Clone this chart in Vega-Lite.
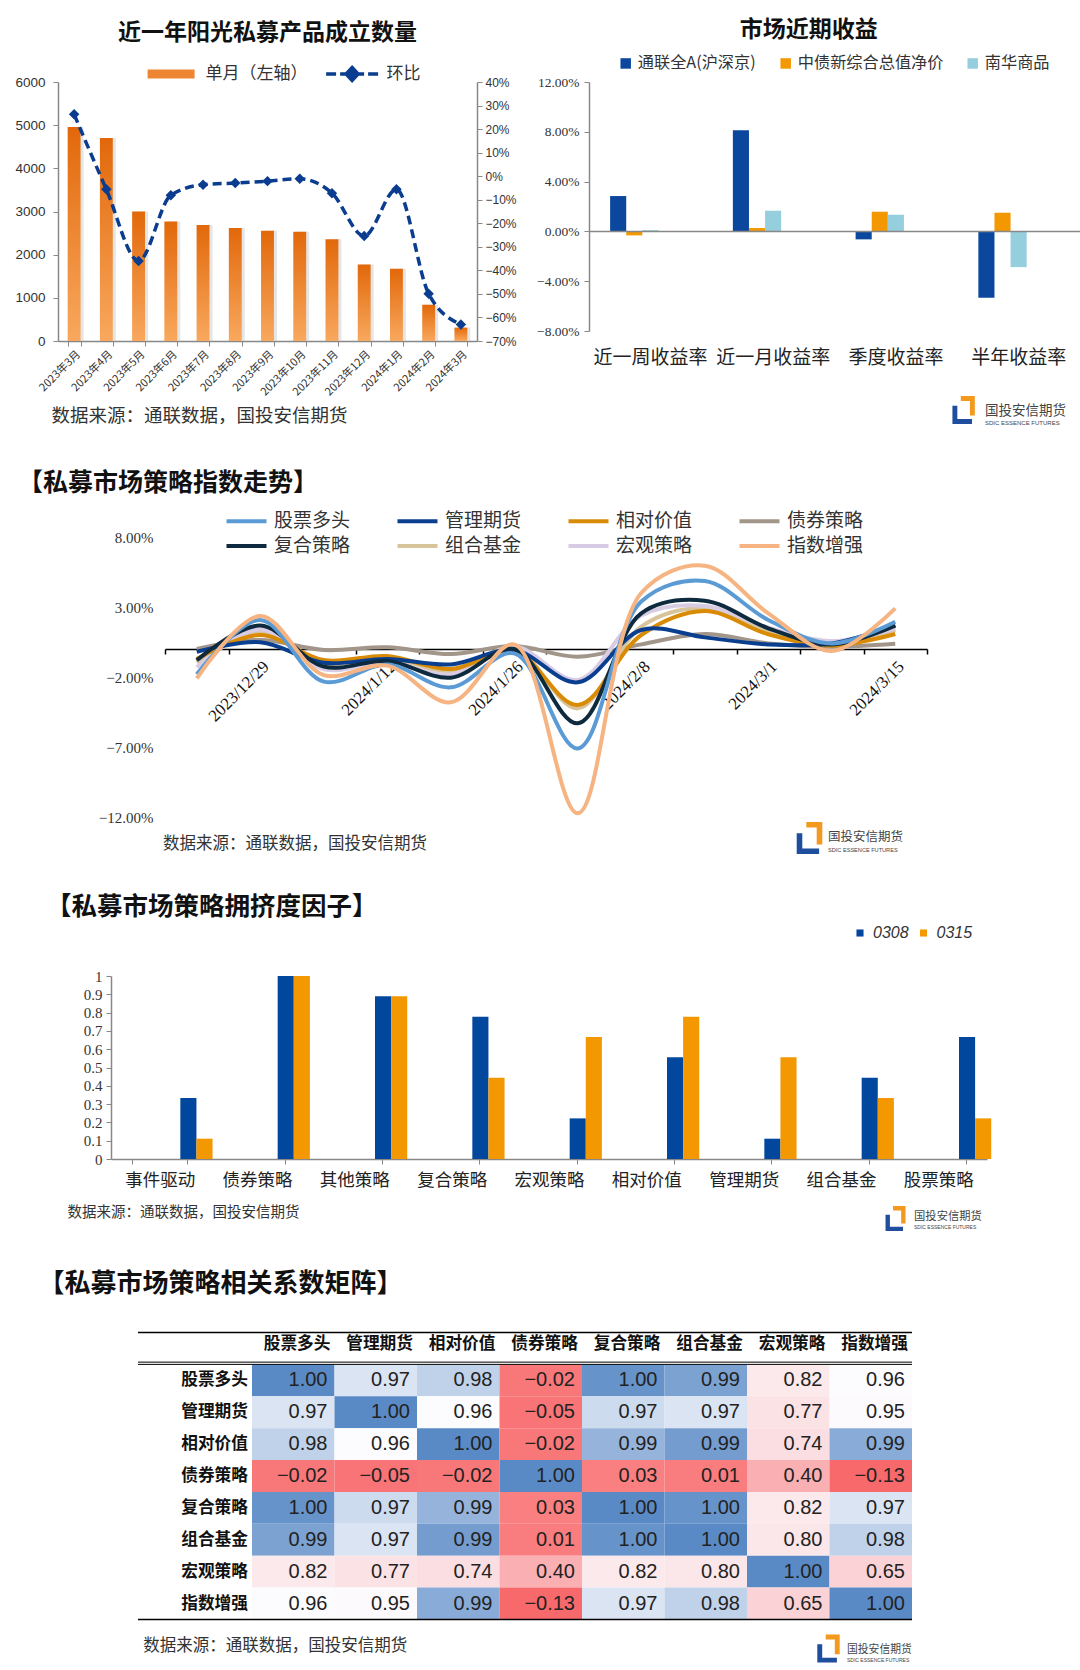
{
 "$schema": "https://vega.github.io/schema/vega-lite/v6.json",
 "background": "white",
 "padding": {"left": 0, "top": 18, "right": 0, "bottom": 0},
 "config": {
  "view": {"stroke": null},
  "font": "Noto Sans CJK SC",
  "axis": {"labelColor": "#333333", "titleColor": "#333333", "grid": false, "labelFont": "Noto Sans CJK SC", "titleFont": "Noto Sans CJK SC"},
  "legend": {"labelColor": "#333333", "padding": 0, "labelFont": "Noto Sans CJK SC"},
  "title": {"color": "#111111", "fontWeight": "bold", "font": "Noto Sans CJK SC"}
 },
 "datasets": {
  "p5": [
   {"r":"股票多头","股票多头":1.000,"管理期货":0.970,"相对价值":0.976,"债券策略":-0.020,"复合策略":0.997,"组合基金":0.992,"宏观策略":0.820,"指数增强":0.960},
   {"r":"管理期货","股票多头":0.970,"管理期货":1.000,"相对价值":0.962,"债券策略":-0.050,"复合策略":0.973,"组合基金":0.970,"宏观策略":0.770,"指数增强":0.950},
   {"r":"相对价值","股票多头":0.976,"管理期货":0.962,"相对价值":1.000,"债券策略":-0.020,"复合策略":0.986,"组合基金":0.994,"宏观策略":0.740,"指数增强":0.989},
   {"r":"债券策略","股票多头":-0.020,"管理期货":-0.050,"相对价值":-0.020,"债券策略":1.000,"复合策略":0.030,"组合基金":0.010,"宏观策略":0.400,"指数增强":-0.130},
   {"r":"复合策略","股票多头":0.997,"管理期货":0.973,"相对价值":0.986,"债券策略":0.030,"复合策略":1.000,"组合基金":0.997,"宏观策略":0.820,"指数增强":0.970},
   {"r":"组合基金","股票多头":0.992,"管理期货":0.970,"相对价值":0.994,"债券策略":0.010,"复合策略":0.997,"组合基金":1.000,"宏观策略":0.800,"指数增强":0.976},
   {"r":"宏观策略","股票多头":0.820,"管理期货":0.770,"相对价值":0.740,"债券策略":0.400,"复合策略":0.820,"组合基金":0.800,"宏观策略":1.000,"指数增强":0.650},
   {"r":"指数增强","股票多头":0.960,"管理期货":0.950,"相对价值":0.989,"债券策略":-0.130,"复合策略":0.970,"组合基金":0.976,"宏观策略":0.650,"指数增强":1.000}
  ]
 },
 "spacing": 40,
 "resolve": {"scale": {"color": "independent", "fill": "independent", "stroke": "independent"}},
 "vconcat": [
  {"spacing": 44, "resolve": {"scale": {"color": "independent", "fill": "independent", "stroke": "independent"}}, "vconcat": [
   {"spacing": 0, "resolve": {"scale": {"color": "independent", "fill": "independent", "stroke": "independent"}}, "hconcat": [
    {"width": 13.4, "height": 1, "data": {"values": []}, "mark": "point"},
    {
     "width": 419, "height": 259,
     "title": {"text": "近一年阳光私募产品成立数量", "fontSize": 23, "anchor": "middle", "frame": "group", "offset": 20.5},
     "data": {"values": [
      {"m":"2023年3月","n":4960,"r":0.263},
      {"m":"2023年4月","n":4700,"r":-0.056},
      {"m":"2023年5月","n":3000,"r":-0.36},
      {"m":"2023年6月","n":2770,"r":-0.081},
      {"m":"2023年7月","n":2690,"r":-0.036},
      {"m":"2023年8月","n":2620,"r":-0.029},
      {"m":"2023年9月","n":2555,"r":-0.021},
      {"m":"2023年10月","n":2530,"r":-0.011},
      {"m":"2023年11月","n":2360,"r":-0.072},
      {"m":"2023年12月","n":1775,"r":-0.254},
      {"m":"2024年1月","n":1675,"r":-0.056},
      {"m":"2024年2月","n":840,"r":-0.499},
      {"m":"2024年3月","n":310,"r":-0.63}
     ]},
     "layer": [
      {"layer": [
       {"mark": {"type": "bar", "color": "#d0d0d0", "opacity": 0.55, "xOffset": 3},
        "encoding": {
         "x": {"field": "m", "type": "ordinal", "sort": null, "scale": {"paddingInner": 0.6, "paddingOuter": 0.3},
               "axis": {"title": "数据来源：通联数据，国投安信期货", "titleX": -7, "titleY": 74, "titleAlign": "left", "titleAnchor": "start", "titleBaseline": "middle", "titleFontSize": 18.5, "titleFontWeight": "normal",
                        "labelAngle": -45, "labelFontSize": 11, "labelPadding": 2, "tickBand": "extent", "tickSize": 5, "domainColor": "#888888", "tickColor": "#888888", "domainWidth": 1.5}},
         "y": {"field": "n", "type": "quantitative", "scale": {"domain": [0, 6000], "nice": false},
               "axis": {"values": [0,1000,2000,3000,4000,5000,6000], "tickCount": 20, "format": "d", "title": null, "labelOverlap": false, "labelFont": "Liberation Sans", "labelFontSize": 13.5, "labelPadding": 8, "tickSize": 5, "domainColor": "#888888", "tickColor": "#888888", "domainWidth": 1.5}}
        }},
       {"mark": {"type": "bar", "color": {"gradient": "linear", "x1": 0, "y1": 0, "x2": 0, "y2": 1, "stops": [{"offset": 0, "color": "#E2680A"}, {"offset": 1, "color": "#F8A85E"}]}},
        "encoding": {"x": {"field": "m", "type": "ordinal", "sort": null}, "y": {"field": "n", "type": "quantitative"}}},
       {"data": {"values": []}, "mark": "bar",
        "encoding": {"fill": {"datum": "单月（左轴）", "scale": {"range": ["#EE8532"]},
                     "legend": {"orient": "none", "legendX": 85.6, "legendY": -16.5, "title": null, "symbolType": "M-1,-1H9.44V1H-1Z", "symbolSize": 81, "symbolStrokeWidth": 0, "labelFontSize": 17, "labelOffset": 45}}}}
      ]},
      {"layer": [
       {"mark": {"type": "line", "color": "#0A3D8F", "strokeWidth": 3.5, "strokeDash": [9, 5], "interpolate": "monotone"},
        "encoding": {"x": {"field": "m", "type": "ordinal", "sort": null},
                     "y": {"field": "r", "type": "quantitative", "scale": {"domain": [-0.7, 0.4], "nice": false},
                           "axis": {"orient": "right", "values": [-0.7,-0.6,-0.5,-0.4,-0.3,-0.2,-0.1,0,0.1,0.2,0.3,0.4], "tickCount": 20, "format": ".0%", "title": null, "labelOverlap": false, "labelFont": "Liberation Sans", "labelFontSize": 12, "labelPadding": 3, "tickSize": 5, "domainColor": "#888888", "tickColor": "#888888", "domainWidth": 1.5}}}},
       {"mark": {"type": "point", "shape": "diamond", "filled": true, "size": 110, "opacity": 1},
        "encoding": {"x": {"field": "m", "type": "ordinal", "sort": null}, "y": {"field": "r", "type": "quantitative"},
                     "fill": {"datum": "环比", "scale": {"range": ["#0A3D8F"]},
                              "legend": {"orient": "none", "legendX": 264.6, "legendY": -16.5, "title": null, "symbolType": "M-1,0H1M1.8,0H3M5.4,0H6.6M7.4,0H9.4M4.2,-1.3L5.4,0L4.2,1.3L3,0Z", "symbolSize": 100, "symbolStrokeColor": "#0A3D8F", "symbolStrokeWidth": 3.5, "labelFontSize": 17, "labelOffset": 47}}}}
      ]}
     ],
     "resolve": {"scale": {"y": "independent", "fill": "independent"}}
    },
    {"width": 19, "height": 1, "data": {"values": []}, "mark": "point"},
    {
     "width": 491, "height": 249,
     "title": {"text": "市场近期收益", "fontSize": 23, "anchor": "middle", "frame": "group", "dx": -25.8, "offset": 13.25},
     "layer": [
      {"data": {"values": [
        {"c":"近一周收益率","s":"通联全A(沪深京)","v":0.0284},{"c":"近一周收益率","s":"中债新综合总值净价","v":-0.0032},{"c":"近一周收益率","s":"南华商品","v":0.001},
        {"c":"近一月收益率","s":"通联全A(沪深京)","v":0.0812},{"c":"近一月收益率","s":"中债新综合总值净价","v":0.0027},{"c":"近一月收益率","s":"南华商品","v":0.0166},
        {"c":"季度收益率","s":"通联全A(沪深京)","v":-0.0064},{"c":"季度收益率","s":"中债新综合总值净价","v":0.0158},{"c":"季度收益率","s":"南华商品","v":0.0134},
        {"c":"半年收益率","s":"通联全A(沪深京)","v":-0.0533},{"c":"半年收益率","s":"中债新综合总值净价","v":0.015},{"c":"半年收益率","s":"南华商品","v":-0.0287}
       ]},
       "mark": "bar",
       "encoding": {
        "x": {"field": "c", "type": "nominal", "scale": {"domain": ["近一周收益率","近一月收益率","季度收益率","半年收益率"], "paddingInner": 0.344, "paddingOuter": 0.172},
              "axis": {"title": null, "labelAngle": 0, "labelFontSize": 19, "labelPadding": 17.5, "domain": false, "ticks": false, "labelColor": "#222222"}},
        "xOffset": {"field": "s", "type": "nominal", "scale": {"domain": ["通联全A(沪深京)","中债新综合总值净价","南华商品"], "paddingInner": 0, "paddingOuter": 0}},
        "y": {"field": "v", "type": "quantitative", "scale": {"domain": [-0.08, 0.12], "nice": false},
              "axis": {"values": [-0.08,-0.04,0,0.04,0.08,0.12], "tickCount": 20, "format": ".2%", "title": null, "labelOverlap": false, "labelFont": "Liberation Serif", "labelFontSize": 13.5, "labelPadding": 5, "tickSize": 5, "domainColor": "#888888", "tickColor": "#888888", "domainWidth": 1.5}},
        "color": {"field": "s", "type": "nominal", "scale": {"domain": ["通联全A(沪深京)","中债新综合总值净价","南华商品"], "range": ["#0A479D","#F39800","#95CEDD"]},
                  "legend": {"orient": "none", "legendX": 28.6, "legendY": -27, "direction": "horizontal", "title": null, "symbolType": "square", "symbolSize": 110, "labelFontSize": 16.2, "labelOffset": 4, "columnPadding": 21}}
       }},
      {"data": {"values": [{}]}, "mark": {"type": "rule", "color": "#888888", "strokeWidth": 1.5}, "encoding": {"y": {"datum": 0}}},
      {"data": {"values": [{}]}, "mark": {"type": "point", "shape": "M-0.8,-0.3H-0.45V0.65H0.6V1H-0.8Z", "filled": true, "color": "#1F4E9F", "opacity": 1, "size": 784, "xOffset": -55, "yOffset": 79}, "encoding": {"x": {"datum": "半年收益率"}, "y": {"datum": -0.08}}},
      {"data": {"values": [{}]}, "mark": {"type": "point", "shape": "M-0.2,-1H0.8V0.4H0.45V-0.65H-0.2Z", "filled": true, "color": "#F39A1E", "opacity": 1, "size": 784, "xOffset": -55, "yOffset": 79}, "encoding": {"x": {"datum": "半年收益率"}, "y": {"datum": -0.08}}},
      {"data": {"values": [{}]}, "mark": {"type": "text", "text": "国投安信期货", "align": "left", "baseline": "middle", "fontSize": 13.5, "color": "#444444", "xOffset": -33.6, "yOffset": 79.5}, "encoding": {"x": {"datum": "半年收益率"}, "y": {"datum": -0.08}}},
      {"data": {"values": [{}]}, "mark": {"type": "text", "text": "SDIC ESSENCE FUTURES", "align": "left", "baseline": "middle", "fontSize": 6, "font": "Liberation Sans", "color": "#444444", "xOffset": -33.6, "yOffset": 91.5}, "encoding": {"x": {"datum": "半年收益率"}, "y": {"datum": -0.08}}}
     ]
    }
   ]},
   {"spacing": 0, "resolve": {"scale": {"color": "independent", "fill": "independent", "stroke": "independent"}}, "hconcat": [
    {"width": 18, "height": 1, "data": {"values": []}, "mark": "point"},
    {
     "width": 762, "height": 280,
     "title": {"text": "【私募市场策略指数走势】", "fontSize": 25, "anchor": "start", "frame": "group", "dx": -147, "offset": 16},
     "layer": [
      {"data": {"values": [
        {"d":"2023/12/22","股票多头":-0.0181,"管理期货":-0.0020,"相对价值":-0.0071,"债券策略":0.0000,"复合策略":-0.0080,"组合基金":-0.0097,"宏观策略":-0.0131,"指数增强":-0.0210},
        {"d":"2023/12/29","股票多头":0.0207,"管理期货":0.0048,"相对价值":0.0100,"债券策略":0.0064,"复合策略":0.0167,"组合基金":0.0124,"宏观策略":0.0140,"指数增强":0.0236},
        {"d":"2024/1/5","股票多头":-0.0233,"管理期货":-0.0098,"相对价值":-0.0079,"债券策略":-0.0007,"复合策略":-0.0126,"组合基金":-0.0102,"宏观策略":-0.0145,"指数增强":-0.0186},
        {"d":"2024/1/12","股票多头":-0.0110,"管理期货":-0.0071,"相对价值":-0.0050,"债券策略":0.0012,"复合策略":-0.0086,"组合基金":-0.0062,"宏观策略":-0.0095,"指数增强":-0.0119},
        {"d":"2024/1/19","股票多头":-0.0274,"管理期货":-0.0110,"相对价值":-0.0143,"债券策略":-0.0036,"复合策略":-0.0205,"组合基金":-0.0157,"宏观策略":-0.0181,"指数增强":-0.0381},
        {"d":"2024/1/26","股票多头":-0.0031,"管理期货":-0.0007,"相对价值":-0.0014,"债券策略":0.0021,"复合策略":0.0000,"组合基金":0.0005,"宏观策略":0.0017,"指数增强":0.0033},
        {"d":"2024/2/2","股票多头":-0.0710,"管理期货":-0.0238,"相对价值":-0.0400,"债券策略":-0.0055,"复合策略":-0.0531,"组合基金":-0.0424,"宏观策略":-0.0221,"指数增强":-0.1174},
        {"d":"2024/2/8","股票多头":0.0340,"管理期货":0.0136,"相对价值":0.0100,"债券策略":0.0033,"复合策略":0.0255,"组合基金":0.0160,"宏观策略":0.0240,"指数增强":0.0400},
        {"d":"2024/2/23","股票多头":0.0486,"管理期货":0.0083,"相对价值":0.0271,"债券策略":0.0107,"复合策略":0.0345,"组合基金":0.0290,"宏观策略":0.0307,"指数增强":0.0595},
        {"d":"2024/3/1","股票多头":0.0207,"管理期货":0.0033,"相对价值":0.0105,"债券策略":0.0040,"复合策略":0.0148,"组合基金":0.0124,"宏观策略":0.0152,"指数增强":0.0255},
        {"d":"2024/3/8","股票多头":0.0040,"管理期货":0.0040,"相对价值":0.0024,"债券策略":0.0017,"复合策略":0.0033,"组合基金":0.0033,"宏观策略":0.0057,"指数增强":-0.0014},
        {"d":"2024/3/15","股票多头":0.0195,"管理期货":0.0171,"相对价值":0.0107,"债券策略":0.0038,"复合策略":0.0167,"组合基金":0.0136,"宏观策略":0.0148,"指数增强":0.0290}
       ]},
       "transform": [{"fold": ["债券策略","组合基金","宏观策略","相对价值","管理期货","复合策略","股票多头","指数增强"], "as": ["s", "v"]}],
       "mark": {"type": "line", "interpolate": "catmull-rom", "strokeWidth": 4},
       "encoding": {
        "x": {"field": "d", "type": "nominal", "sort": null,
              "scale": {"domain": ["2023/12/22","2023/12/29","2024/1/5","2024/1/12","2024/1/19","2024/1/26","2024/2/2","2024/2/8","2024/2/23","2024/3/1","2024/3/8","2024/3/15"]},
              "axis": {"title": "数据来源：通联数据，国投安信期货", "titleX": -2.5, "titleY": 194, "titleAlign": "left", "titleAnchor": "start", "titleBaseline": "middle", "titleFontSize": 16.5, "titleFontWeight": "normal",
                       "offset": -168, "labelAngle": -45, "labelFont": "Liberation Serif", "labelFontSize": 17, "labelColor": "#111111", "labelPadding": 4,
                       "labelExpr": "indexof(['2023/12/29','2024/1/12','2024/1/26','2024/2/8','2024/3/1','2024/3/15'], datum.value) >= 0 ? datum.value : ''",
                       "tickBand": "extent", "tickSize": 5, "tickColor": "#000000", "tickWidth": 1.5, "domainColor": "#000000", "domainWidth": 1.5}},
        "y": {"field": "v", "type": "quantitative", "scale": {"domain": [-0.12, 0.08], "nice": false},
              "axis": {"values": [-0.12,-0.07,-0.02,0.03,0.08], "tickCount": 20, "format": ".2%", "title": null, "labelOverlap": false, "domain": false, "ticks": false, "labelFont": "Liberation Serif", "labelFontSize": 15, "labelPadding": 12}},
        "color": {"field": "s", "type": "nominal",
                  "scale": {"domain": ["股票多头","管理期货","相对价值","债券策略","复合策略","组合基金","宏观策略","指数增强"], "range": ["#5B9BD5","#0A3F8F","#D98B05","#A29589","#0E2A3E","#D8C49B","#D7CCE4","#F5B482"]},
                  "legend": {"orient": "none", "legendX": 57, "legendY": -25.5, "direction": "horizontal", "columns": 4, "gridAlign": "all", "columnPadding": 38, "rowPadding": 5, "title": null, "symbolType": "M-1,0H7", "symbolSize": 100, "symbolStrokeWidth": 4, "labelFontSize": 19, "labelOffset": 33}}
       }},
      {"data": {"values": [{}]}, "mark": {"type": "point", "shape": "M-0.8,-0.3H-0.45V0.65H0.6V1H-0.8Z", "filled": true, "color": "#1F4E9F", "opacity": 1, "size": 1024, "xOffset": 41.25, "yOffset": 21}, "encoding": {"x": {"datum": "2024/3/1"}, "y": {"datum": -0.12}}},
      {"data": {"values": [{}]}, "mark": {"type": "point", "shape": "M-0.2,-1H0.8V0.4H0.45V-0.65H-0.2Z", "filled": true, "color": "#F39A1E", "opacity": 1, "size": 1024, "xOffset": 41.25, "yOffset": 21}, "encoding": {"x": {"datum": "2024/3/1"}, "y": {"datum": -0.12}}},
      {"data": {"values": [{}]}, "mark": {"type": "text", "text": "国投安信期货", "align": "left", "baseline": "middle", "fontSize": 12.5, "color": "#444444", "xOffset": 59.75, "yOffset": 20}, "encoding": {"x": {"datum": "2024/3/1"}, "y": {"datum": -0.12}}},
      {"data": {"values": [{}]}, "mark": {"type": "text", "text": "SDIC ESSENCE FUTURES", "align": "left", "baseline": "middle", "fontSize": 5.6, "font": "Liberation Sans", "color": "#444444", "xOffset": 59.75, "yOffset": 33}, "encoding": {"x": {"datum": "2024/3/1"}, "y": {"datum": -0.12}}}
     ]
    }
   ]}
  ]},
  {"spacing": 39.5, "resolve": {"scale": {"color": "independent", "fill": "independent", "stroke": "independent"}}, "vconcat": [
   {"spacing": 0, "resolve": {"scale": {"color": "independent", "fill": "independent", "stroke": "independent"}}, "hconcat": [
    {"width": 46, "height": 1, "data": {"values": []}, "mark": "point"},
    {
     "width": 876, "height": 183,
     "title": {"text": "【私募市场策略拥挤度因子】", "fontSize": 25.5, "anchor": "start", "frame": "group", "dx": -65, "offset": 5},
     "layer": [
      {"data": {"values": [
        {"k":"事件驱动","d":"0308","v":0.333},{"k":"事件驱动","d":"0315","v":0.111},
        {"k":"债券策略","d":"0308","v":1.0},{"k":"债券策略","d":"0315","v":1.0},
        {"k":"其他策略","d":"0308","v":0.889},{"k":"其他策略","d":"0315","v":0.889},
        {"k":"复合策略","d":"0308","v":0.778},{"k":"复合策略","d":"0315","v":0.444},
        {"k":"宏观策略","d":"0308","v":0.222},{"k":"宏观策略","d":"0315","v":0.667},
        {"k":"相对价值","d":"0308","v":0.556},{"k":"相对价值","d":"0315","v":0.778},
        {"k":"管理期货","d":"0308","v":0.111},{"k":"管理期货","d":"0315","v":0.556},
        {"k":"组合基金","d":"0308","v":0.444},{"k":"组合基金","d":"0315","v":0.333},
        {"k":"股票策略","d":"0308","v":0.667},{"k":"股票策略","d":"0315","v":0.222}
       ]},
       "mark": "bar",
       "encoding": {
        "x": {"field": "k", "type": "nominal", "scale": {"domain": ["事件驱动","债券策略","其他策略","复合策略","宏观策略","相对价值","管理期货","组合基金","股票策略"], "paddingInner": 0.432, "paddingOuter": 0.216},
              "axis": {"title": "数据来源：通联数据，国投安信期货", "titleX": -44, "titleY": 53, "titleAlign": "left", "titleAnchor": "start", "titleBaseline": "middle", "titleFontSize": 14.5, "titleFontWeight": "normal",
                       "labelAngle": 0, "labelFontSize": 17.5, "labelPadding": 7, "labelColor": "#222222", "tickBand": "extent", "tickSize": 5, "domainColor": "#888888", "tickColor": "#888888", "domainWidth": 1.5}},
        "xOffset": {"field": "d", "type": "nominal", "scale": {"domain": ["0308","0315"], "paddingInner": 0, "paddingOuter": 0}},
        "y": {"field": "v", "type": "quantitative", "scale": {"domain": [0, 1], "nice": false},
              "axis": {"values": [0,0.1,0.2,0.3,0.4,0.5,0.6,0.7,0.8,0.9,1], "tickCount": 20, "format": "~g", "title": null, "labelOverlap": false, "labelFont": "Liberation Serif", "labelFontSize": 15, "labelPadding": 4, "tickSize": 5, "domainColor": "#888888", "tickColor": "#888888", "domainWidth": 1.5}},
        "color": {"field": "d", "type": "nominal", "scale": {"domain": ["0308","0315"], "range": ["#00479D","#F39800"]},
                  "legend": {"orient": "none", "legendX": 741, "legendY": -51, "direction": "horizontal", "title": null, "symbolType": "square", "symbolSize": 50, "labelFontSize": 16, "labelFontStyle": "italic", "labelFont": "Liberation Sans", "columnPadding": 6.5, "labelOffset": 5}}
       }},
      {"data": {"values": [{}]}, "mark": {"type": "point", "shape": "M-0.8,-0.3H-0.45V0.65H0.6V1H-0.8Z", "filled": true, "color": "#1F4E9F", "opacity": 1, "size": 625, "xOffset": -42.8, "yOffset": 59.5}, "encoding": {"x": {"datum": "股票策略"}, "y": {"datum": 0}}},
      {"data": {"values": [{}]}, "mark": {"type": "point", "shape": "M-0.2,-1H0.8V0.4H0.45V-0.65H-0.2Z", "filled": true, "color": "#F39A1E", "opacity": 1, "size": 625, "xOffset": -42.8, "yOffset": 59.5}, "encoding": {"x": {"datum": "股票策略"}, "y": {"datum": 0}}},
      {"data": {"values": [{}]}, "mark": {"type": "text", "text": "国投安信期货", "align": "left", "baseline": "middle", "fontSize": 11.3, "color": "#444444", "xOffset": -24.3, "yOffset": 57.5}, "encoding": {"x": {"datum": "股票策略"}, "y": {"datum": 0}}},
      {"data": {"values": [{}]}, "mark": {"type": "text", "text": "SDIC ESSENCE FUTURES", "align": "left", "baseline": "middle", "fontSize": 5, "font": "Liberation Sans", "color": "#444444", "xOffset": -24.3, "yOffset": 67.5}, "encoding": {"x": {"datum": "股票策略"}, "y": {"datum": 0}}}
     ]
    }
   ]},
   {"spacing": 0, "resolve": {"scale": {"color": "independent", "fill": "independent", "stroke": "independent"}}, "hconcat": [
    {"width": 37.4, "height": 1, "data": {"values": []}, "mark": "point"},
    {
     "title": {"text": "【私募市场策略相关系数矩阵】", "fontSize": 26, "anchor": "start", "frame": "group", "dx": -99.6, "offset": 35},
     "spacing": 0,
     "bounds": "flush",
     "resolve": {"scale": {"color": "independent", "fill": "independent", "stroke": "independent"}},
     "hconcat": [
      {
       "width": 114, "height": 287,
       "layer": [
        {"data": {"name": "p5"},
         "mark": {"type": "text", "align": "right", "baseline": "middle", "fontSize": 16.7, "fontWeight": "bold", "color": "#111111", "xOffset": 53},
         "encoding": {
          "x": {"datum": "label", "type": "nominal", "scale": {"paddingInner": 0, "paddingOuter": 0},
                "axis": {"labels": false, "ticks": false, "domain": false, "title": "数据来源：通联数据，国投安信期货", "titleX": 4.7, "titleY": 26, "titleAlign": "left", "titleAnchor": "start", "titleBaseline": "middle", "titleFontSize": 16.5, "titleFontWeight": "normal"}},
          "y": {"field": "r", "type": "nominal", "scale": {"domain": ["header","股票多头","管理期货","相对价值","债券策略","复合策略","组合基金","宏观策略","指数增强"], "paddingInner": 0, "paddingOuter": 0}, "axis": null},
          "text": {"field": "r"}
         }},
        {"data": {"values": [{}]}, "mark": {"type": "rule", "color": "#000000", "strokeWidth": 1.5, "yOffset": -15.95}, "encoding": {"y": {"datum": "header", "type": "nominal"}}},
        {"data": {"values": [{}]}, "mark": {"type": "rule", "color": "#000000", "strokeWidth": 1, "yOffset": -15.95}, "encoding": {"y": {"datum": "股票多头", "type": "nominal"}}},
        {"data": {"values": [{}]}, "mark": {"type": "rule", "color": "#000000", "strokeWidth": 1, "yOffset": -18.2}, "encoding": {"y": {"datum": "股票多头", "type": "nominal"}}},
        {"data": {"values": [{}]}, "mark": {"type": "rule", "color": "#000000", "strokeWidth": 1.5, "yOffset": 15.95}, "encoding": {"y": {"datum": "指数增强", "type": "nominal"}}}
       ]
      },
      {
       "width": 660, "height": 287,
       "layer": [
        {"data": {"name": "p5"},
         "transform": [{"fold": ["股票多头","管理期货","相对价值","债券策略","复合策略","组合基金","宏观策略","指数增强"], "as": ["c", "v"]}],
         "mark": "rect",
         "encoding": {
          "x": {"field": "c", "type": "nominal", "scale": {"domain": ["股票多头","管理期货","相对价值","债券策略","复合策略","组合基金","宏观策略","指数增强"], "paddingInner": 0, "paddingOuter": 0}, "axis": null},
          "y": {"field": "r", "type": "nominal", "scale": {"domain": ["header","股票多头","管理期货","相对价值","债券策略","复合策略","组合基金","宏观策略","指数增强"], "paddingInner": 0, "paddingOuter": 0}, "axis": null},
          "color": {"field": "v", "type": "quantitative", "scale": {"domain": [-0.13, 0.962, 1], "range": ["#F8696B", "#FCFCFF", "#5A8AC6"], "interpolate": "rgb"}, "legend": null}
         }},
        {"data": {"name": "p5"},
         "transform": [{"fold": ["股票多头","管理期货","相对价值","债券策略","复合策略","组合基金","宏观策略","指数增强"], "as": ["c", "v"]}],
         "mark": {"type": "text", "align": "right", "baseline": "middle", "fontSize": 20, "font": "Liberation Sans", "color": "#222222", "xOffset": 34.25},
         "encoding": {
          "x": {"field": "c", "type": "nominal"},
          "y": {"field": "r", "type": "nominal"},
          "text": {"field": "v", "type": "quantitative", "format": ".2f"}
         }},
        {"data": {"name": "p5"},
         "mark": {"type": "text", "align": "right", "baseline": "middle", "fontSize": 16.7, "fontWeight": "bold", "color": "#111111", "xOffset": 37.25, "yOffset": -4},
         "encoding": {"x": {"field": "r", "type": "nominal"}, "y": {"datum": "header", "type": "nominal"}, "text": {"field": "r"}}},
        {"data": {"values": [{}]}, "mark": {"type": "rule", "color": "#000000", "strokeWidth": 1.5, "yOffset": -15.95}, "encoding": {"y": {"datum": "header", "type": "nominal"}}},
        {"data": {"values": [{}]}, "mark": {"type": "rule", "color": "#000000", "strokeWidth": 1, "yOffset": -15.95}, "encoding": {"y": {"datum": "股票多头", "type": "nominal"}}},
        {"data": {"values": [{}]}, "mark": {"type": "rule", "color": "#000000", "strokeWidth": 1, "yOffset": -18.2}, "encoding": {"y": {"datum": "股票多头", "type": "nominal"}}},
        {"data": {"values": [{}]}, "mark": {"type": "rule", "color": "#000000", "strokeWidth": 1.5, "yOffset": 15.95}, "encoding": {"y": {"datum": "指数增强", "type": "nominal"}}},
        {"data": {"values": [{}]}, "mark": {"type": "point", "shape": "M-0.8,-0.3H-0.45V0.65H0.6V1H-0.8Z", "filled": true, "color": "#1F4E9F", "opacity": 1, "size": 784, "xOffset": -42.25, "yOffset": 45}, "encoding": {"x": {"datum": "指数增强", "type": "nominal"}, "y": {"datum": "指数增强", "type": "nominal"}}},
        {"data": {"values": [{}]}, "mark": {"type": "point", "shape": "M-0.2,-1H0.8V0.4H0.45V-0.65H-0.2Z", "filled": true, "color": "#F39A1E", "opacity": 1, "size": 784, "xOffset": -42.25, "yOffset": 45}, "encoding": {"x": {"datum": "指数增强", "type": "nominal"}, "y": {"datum": "指数增强", "type": "nominal"}}},
        {"data": {"values": [{}]}, "mark": {"type": "text", "text": "国投安信期货", "align": "left", "baseline": "middle", "fontSize": 10.8, "color": "#444444", "xOffset": -23.75, "yOffset": 46}, "encoding": {"x": {"datum": "指数增强", "type": "nominal"}, "y": {"datum": "指数增强", "type": "nominal"}}},
        {"data": {"values": [{}]}, "mark": {"type": "text", "text": "SDIC ESSENCE FUTURES", "align": "left", "baseline": "middle", "fontSize": 5, "font": "Liberation Sans", "color": "#444444", "xOffset": -23.75, "yOffset": 56}, "encoding": {"x": {"datum": "指数增强", "type": "nominal"}, "y": {"datum": "指数增强", "type": "nominal"}}}
       ]
      }
     ]
    }
   ]}
  ]}
 ]
}
